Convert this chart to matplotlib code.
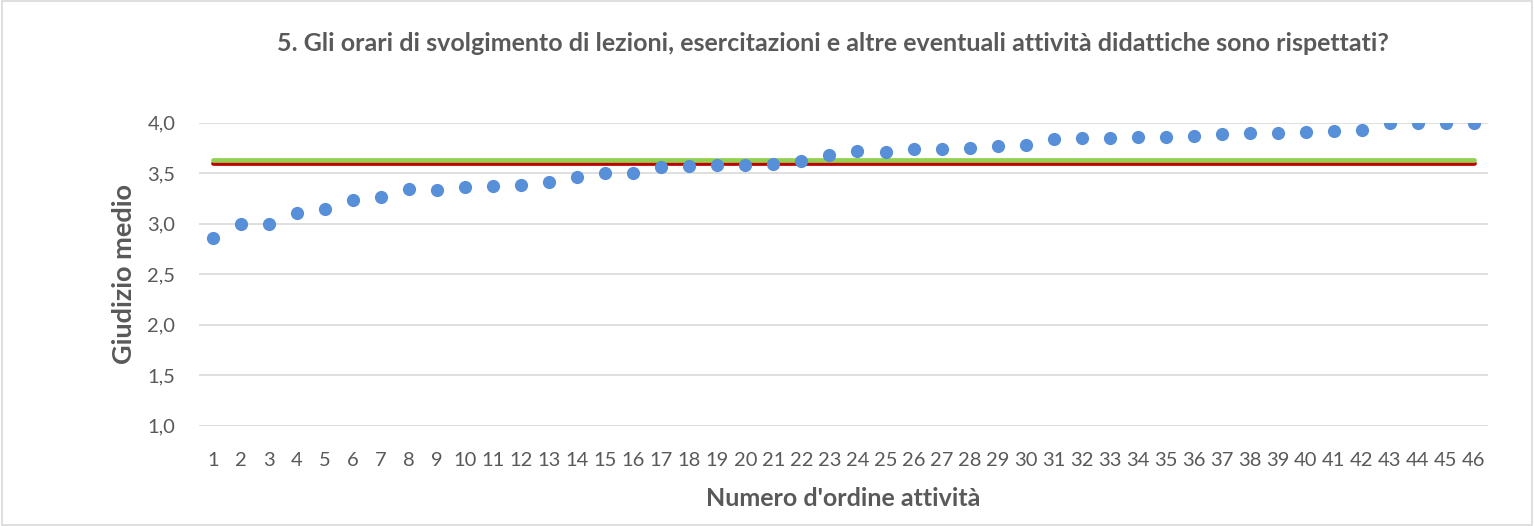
import matplotlib.pyplot as plt
from matplotlib.patches import Rectangle

# giudizio medio per attività
attivita = list(range(1, 47))
giudizio = [2.86, 3.00, 3.00, 3.10, 3.14, 3.23, 3.26, 3.34, 3.33, 3.36,
            3.37, 3.38, 3.41, 3.46, 3.50, 3.50, 3.56, 3.57, 3.58, 3.58,
            3.59, 3.62, 3.68, 3.72, 3.71, 3.74, 3.74, 3.75, 3.77, 3.78,
            3.84, 3.85, 3.85, 3.86, 3.86, 3.87, 3.89, 3.90, 3.90, 3.91,
            3.92, 3.93, 4.00, 4.00, 4.00, 4.00]
media_rossa = 3.60
media_verde = 3.63
y_ticks = [1.0, 1.5, 2.0, 2.5, 3.0, 3.5, 4.0]

titolo = "5. Gli orari di svolgimento di lezioni, esercitazioni e altre eventuali attività didattiche sono rispettati?"
grigio = "#595959"

plt.rcParams['font.family'] = ['Lato', 'DejaVu Sans']

fig = plt.figure(figsize=(15.34, 5.26), dpi=100)
ax = fig.add_axes([0.1297, 0.191, 0.8403, 0.576])

# linee di riferimento
ax.plot([attivita[0], attivita[-1]], [media_rossa] * 2, color="#C00000",
        lw=3.4, solid_capstyle="round", zorder=2)
ax.plot([attivita[0], attivita[-1]], [media_verde] * 2, color="#92D050",
        lw=3.4, solid_capstyle="round", zorder=3)

ax.plot(attivita, giudizio, "o", color="#578FD8", markersize=9.5,
        markeredgewidth=0, zorder=4)

ax.set_xlim(0.5, 46.5)
ax.set_ylim(1.0, 4.0)
ax.set_xticks(attivita)
ax.set_yticks(y_ticks)
ax.set_yticklabels([f"{v:.1f}".replace(".", ",") for v in y_ticks])
ax.yaxis.grid(True, color="#D9D9D9", lw=1.2)
ax.set_axisbelow(True)
for s in ax.spines.values():
    s.set_visible(False)
ax.tick_params(length=0, labelsize=14.5, colors=grigio)
ax.tick_params(axis="x", pad=19)
ax.tick_params(axis="y", pad=17)

ax.set_xlabel("Numero d'ordine attività", fontsize=18, fontweight="bold",
              color=grigio, labelpad=13)
ax.set_ylabel("Giudizio medio", fontsize=19.5, fontweight="bold",
              color=grigio, labelpad=8)
fig.text(0.543, 0.918, titolo, ha="center", va="center", fontsize=18,
         fontweight="bold", color=grigio)

fig.patches.append(Rectangle((0.001, 0.002), 0.998, 0.996, transform=fig.transFigure,
                             fill=False, edgecolor="#D9D9D9", lw=1.2))

fig.savefig("out.png", dpi=100)
